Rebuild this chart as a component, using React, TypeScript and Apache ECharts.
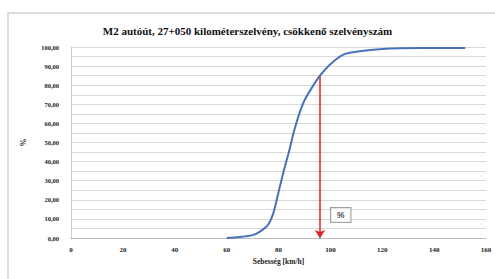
import React, { useEffect, useRef } from "react";
import * as echarts from "echarts";

const titleText = "M2 autóút, 27+050 kilométerszelvény, csökkenő szelvényszám";
const xName = "Sebesség [km/h]";
const yName = "%";
const speeds = [60, 65, 70, 73, 76, 78, 80, 82, 84, 86, 88, 90, 93, 96, 100, 105, 110, 120, 135, 152];
const percents = [0, 0.5, 1.5, 3.5, 7, 13, 24, 35, 45, 56, 65, 72, 79, 85, 91, 96, 97.5, 99, 99.5, 99.5];
const markSpeed = 96;
const markPercent = 85;
const markLabel = "96";
const labelPos = [104, 12];

export default function App() {
  const ref = useRef<HTMLDivElement>(null);
  useEffect(() => {
    if (!ref.current) return;
    const chart = echarts.init(ref.current, null, { renderer: "svg" });
    const serif = "Liberation Serif";
    chart.setOption({
      animation: false,
      backgroundColor: "#fff",
      title: {
        text: titleText,
        left: "center",
        top: 20,
        textStyle: { fontFamily: serif, fontSize: 11, fontWeight: "bold", color: "#111" },
      },
      grid: { left: 71, right: 9, top: 47, bottom: 41 },
      xAxis: {
        type: "value",
        min: 0,
        max: 160,
        interval: 20,
        name: xName,
        nameLocation: "middle",
        nameGap: 19,
        nameTextStyle: { fontFamily: serif, fontSize: 7.5, fontWeight: "bold", color: "#222" },
        axisLine: { show: true, lineStyle: { color: "#bbb" } },
        axisTick: { show: false },
        splitLine: { show: false },
        axisLabel: { fontFamily: serif, fontSize: 7, fontWeight: "bold", color: "#222", margin: 8 },
      },
      yAxis: {
        type: "value",
        min: 0,
        max: 100,
        interval: 5,
        name: yName,
        nameLocation: "middle",
        nameGap: 44,
        nameRotate: 90,
        nameTextStyle: { fontFamily: serif, fontSize: 8, fontWeight: "bold", color: "#222" },
        axisLine: { show: true, lineStyle: { color: "#ccc" } },
        axisTick: { show: false },
        axisLabel: {
          fontFamily: serif,
          fontSize: 6.5,
          fontWeight: "bold",
          color: "#222",
          margin: 12,
          formatter: (v: number) => (v % 10 === 0 ? v.toFixed(2).replace(".", ",") : ""),
        },
        splitLine: { show: true, lineStyle: { color: "#d9d9d9", width: 1 } },
      },
      series: [
        {
          type: "line",
          data: speeds.map((s, i) => [s, percents[i]]),
          smooth: 0.3,
          showSymbol: false,
          lineStyle: { color: "#4a72b8", width: 2 },
          markLine: {
            silent: true,
            symbol: ["none", "arrow"],
            symbolSize: 8,
            label: { show: false },
            lineStyle: { color: "#e02020", width: 1.5, type: "solid" },
            data: [[{ coord: [markSpeed, markPercent] }, { coord: [markSpeed, 0] }]],
          },
        },
        {
          type: "scatter",
          data: [labelPos],
          symbolSize: 0,
          label: {
            show: true,
            position: "inside",
            formatter: markLabel,
            fontFamily: serif,
            fontSize: 7.5,
            fontWeight: "bold",
            color: "#222",
            backgroundColor: "#fff",
            borderColor: "#888",
            borderWidth: 1,
            padding: [3, 6],
          },
        },
      ],
      graphic: [
        {
          type: "rect",
          shape: { x: 8, y: 13, width: 490, height: 270 },
          style: { fill: "none", stroke: "#d0d0d0", lineWidth: 1.5 },
          silent: true,
        },
      ],
    });
    return () => chart.dispose();
  }, []);
  return <div ref={ref} style={{ width: 495, height: 279, position: "absolute", left: 0, top: 0 }} />;
}
